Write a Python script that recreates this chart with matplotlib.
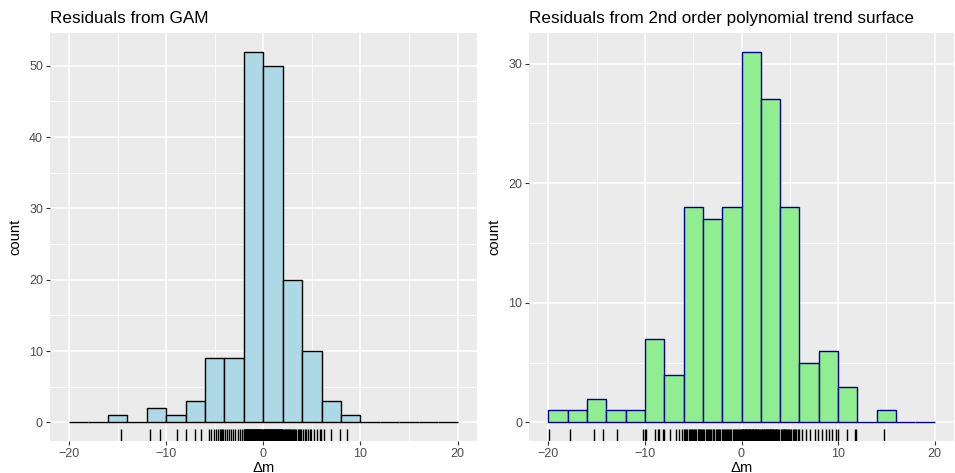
import matplotlib
matplotlib.use("Agg")
import matplotlib.pyplot as plt
import numpy as np

plt.rcParams['font.family'] = ['Liberation Sans', 'DejaVu Sans']

# Histogram bins (width 2, from -20 to 20)
bin_edges = list(range(-20, 21, 2))

# Counts per bin
gam_counts = [0, 0, 1, 0, 2, 1, 3, 9, 9, 52, 50, 20, 10, 3, 1, 0, 0, 0, 0, 0]
poly_counts = [1, 1, 2, 1, 1, 7, 4, 18, 17, 18, 31, 27, 18, 5, 6, 3, 0, 1, 0, 0]

# Individual residuals shown in the rug
gam_resid = [
    -14.6, -11.7, -10.6, -8.9, -7.9, -7.0, -6.4,
    -5.6, -5.4, -5.1, -4.9, -4.7, -4.5, -4.4, -4.2, -4.1,
    -3.95, -3.7, -3.5, -3.3, -3.1, -2.9, -2.6, -2.4, -2.2,
    -1.97, -1.93, -1.92, -1.86, -1.81, -1.79, -1.74, -1.72, -1.66, -1.63,
    -1.61, -1.55, -1.52, -1.49, -1.47, -1.41, -1.38, -1.36, -1.31, -1.27,
    -1.25, -1.21, -1.16, -1.14, -1.10, -1.06, -1.03, -0.99, -0.96, -0.92,
    -0.88, -0.85, -0.83, -0.78, -0.74, -0.71, -0.69, -0.64, -0.61, -0.57,
    -0.53, -0.51, -0.46, -0.43, -0.39, -0.35, -0.32, -0.28, -0.22, -0.17,
    -0.11, -0.04,
    0.03, 0.08, 0.12, 0.15, 0.19, 0.24, 0.27, 0.31, 0.36, 0.39,
    0.42, 0.47, 0.51, 0.54, 0.58, 0.62, 0.66, 0.69, 0.73, 0.77,
    0.81, 0.84, 0.88, 0.93, 0.96, 1.01, 1.04, 1.07, 1.12, 1.15,
    1.19, 1.24, 1.27, 1.31, 1.35, 1.38, 1.43, 1.46, 1.50, 1.54,
    1.57, 1.62, 1.65, 1.69, 1.74, 1.77, 1.81, 1.86, 1.91, 1.96,
    2.05, 2.1, 2.2, 2.3, 2.35, 2.45, 2.5, 2.6, 2.7, 2.8,
    2.9, 3.0, 3.1, 3.2, 3.3, 3.4, 3.55, 3.65, 3.75, 3.9,
    4.1, 4.3, 4.4, 4.6, 4.8, 4.95, 5.2, 5.5, 5.8, 5.95,
    6.3, 7.0, 7.9, 8.6,
]

poly_resid = [
    -19.9, -17.8, -15.3, -14.3, -12.9, -10.2,
    -9.97, -9.85, -9.0, -8.6, -8.5, -8.1, -8.05,
    -7.4, -6.8, -6.5, -6.2,
    -5.95, -5.8, -5.7, -5.6, -5.45, -5.35, -5.2, -5.1, -5.0, -4.9,
    -4.8, -4.7, -4.55, -4.45, -4.35, -4.25, -4.15, -4.05,
    -3.95, -3.85, -3.7, -3.6, -3.5, -3.35, -3.25, -3.15, -3.0, -2.9,
    -2.8, -2.65, -2.55, -2.45, -2.3, -2.2, -2.05,
    -1.95, -1.85, -1.7, -1.6, -1.5, -1.4, -1.25, -1.15, -1.05, -0.9,
    -0.8, -0.7, -0.55, -0.45, -0.35, -0.25, -0.15, -0.05,
    0.03, 0.09, 0.14, 0.2, 0.27, 0.33, 0.38, 0.45, 0.51, 0.57,
    0.63, 0.69, 0.75, 0.81, 0.86, 0.93, 0.99, 1.05, 1.11, 1.17,
    1.23, 1.29, 1.35, 1.41, 1.47, 1.53, 1.6, 1.67, 1.74, 1.82, 1.9,
    2.04, 2.1, 2.17, 2.24, 2.3, 2.37, 2.43, 2.5, 2.57, 2.63,
    2.7, 2.77, 2.83, 2.9, 2.97, 3.04, 3.1, 3.17, 3.24, 3.31,
    3.38, 3.45, 3.52, 3.6, 3.68, 3.78, 3.9,
    4.05, 4.15, 4.25, 4.35, 4.45, 4.55, 4.65, 4.75, 4.85, 4.95,
    5.05, 5.15, 5.3, 5.4, 5.55, 5.65, 5.8, 5.95,
    6.3, 6.7, 7.1, 7.6, 7.9,
    8.3, 8.7, 9.1, 9.4, 9.8, 9.95,
    10.9, 11.7, 11.9,
    14.8,
]

x_ticks = [-20, -10, 0, 10, 20]
titles = ["Residuals from GAM", "Residuals from 2nd order polynomial trend surface"]

W, H = 955, 473
fig = plt.figure(figsize=(W / 100, H / 100), dpi=100)
fig.patch.set_facecolor("white")


def px_axes(left, top, right, bottom):
    return fig.add_axes([left / W, (H - bottom) / H, (right - left) / W, (bottom - top) / H])


def style_panel(ax, yticks, ymajor_step, ymax):
    ax.set_facecolor("#EBEBEB")
    for s in ax.spines.values():
        s.set_visible(False)
    ax.set_xlim(-22, 22)
    ax.set_ylim(-0.05 * ymax, 1.05 * ymax)
    ax.set_xticks(x_ticks)
    ax.set_xticks([-15, -5, 5, 15], minor=True)
    ax.set_yticks(yticks)
    ax.set_yticks([t + ymajor_step / 2 for t in yticks if t + ymajor_step / 2 < 1.05 * ymax], minor=True)
    ax.set_xticklabels(["\u221220", "\u221210", "0", "10", "20"])
    ax.grid(which="major", color="white", linewidth=1.1)
    ax.grid(which="minor", color="white", linewidth=0.55)
    ax.set_axisbelow(True)
    ax.tick_params(which="major", length=2.7, width=0.8, color="#333333",
                   labelcolor="#4D4D4D", labelsize=9, pad=2)
    ax.tick_params(which="minor", length=0)
    ax.set_xlabel("\u0394m", fontsize=10.6, labelpad=1)
    ax.set_ylabel("count", fontsize=10.6, labelpad=5)


def draw(ax, counts, resid, fill, edge, title, yticks, step):
    ax.bar(bin_edges[:-1], counts, width=2, align="edge", color=fill,
           edgecolor=edge, linewidth=1.0, zorder=2)
    ax.vlines(resid, 0, 0.03, transform=ax.get_xaxis_transform(),
              color="black", linewidth=1.0, zorder=3)
    style_panel(ax, yticks, step, max(counts))
    ax.set_title(title, loc="left", fontsize=12.3, pad=7)


ax1 = px_axes(49.5, 33, 477, 441)
draw(ax1, gam_counts, gam_resid, "#ADD8E6", "black", titles[0],
     [0, 10, 20, 30, 40, 50], 10)

ax2 = px_axes(529, 33, 954, 441)
draw(ax2, poly_counts, poly_resid, "#90EE90", "#00008B", titles[1],
     [0, 10, 20, 30], 10)

fig.savefig("out.png", dpi=100)
